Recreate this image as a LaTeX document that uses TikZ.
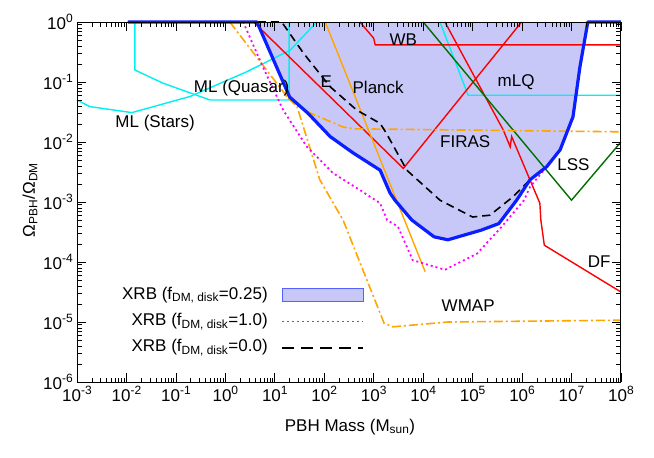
\documentclass[tikz,border=0pt]{standalone}
\usepackage{fontspec}
\setmainfont{Liberation Sans}
\definecolor{fillc}{RGB}{200,200,248}
\definecolor{orng}{RGB}{255,165,0}
\definecolor{dgreen}{RGB}{0,110,0}
\definecolor{xblue}{RGB}{10,30,255}
\definecolor{cyn}{RGB}{0,240,240}
\definecolor{mag}{RGB}{255,0,255}
\definecolor{rd}{RGB}{255,0,0}
\newcommand\tp[1]{10\raisebox{0.75ex}{\fontsize{12}{12}\selectfont #1}}
\begin{document}
\begin{tikzpicture}[
  lbl/.style={font=\fontsize{17}{20}\selectfont, inner sep=1pt},
  thin1/.style={line width=1.4pt},
  dashdot1/.style={line width=1.6pt, dash pattern=on 9pt off 3pt on 2pt off 3pt},
  dotm/.style={mag, line width=1.8pt, dash pattern=on 2pt off 3pt},
]
\useasboundingbox (0,0) rectangle (654pt,-458pt);
\begin{scope}[x=49.45pt, y=60pt, shift={(225.35pt,-22pt)}]
% shaded region
\fill[fillc] (0.64,0)--(1.30,-1.25)--(1.67,-1.52)--(2.12,-1.91)--(2.58,-2.18)--(3.13,-2.47)--(3.33,-2.85)--(3.43,-2.97)--(3.77,-3.3)--(4.22,-3.58)--(4.5,-3.63)--(5.17,-3.47)--(5.53,-3.36)--(5.89,-2.97)--(6.16,-2.63)--(6.5,-2.41)--(6.77,-2.13)--(7.03,-1.58)--(7.17,-0.75)--(7.33,0)--cycle;
% cyan
\draw[cyn, thin1] (-3,-1.3)--(-2.74,-1.41)--(-1.89,-1.51)--(-0.71,-1.24)--(0.43,-0.83)--(1.31,-0.47)--(1.85,0);
\draw[cyn, thin1] (-1.83,0)--(-1.83,-0.8)--(-1.26,-1.02)--(-0.31,-1.3)--(1.29,-1.3)--(1.29,0);
\draw[cyn, thin1] (4.34,0)--(4.91,-1.22)--(8,-1.22);
% red
\draw[rd, thin1] (2.72,0)--(3.0,-0.27)--(3.03,-0.38)--(8,-0.38);
\draw[rd, thin1] (0.57,0)--(3.6,-2.44)--(5.99,0);
\draw[rd, thin1] (4.44,0)--(5.62,-1.8)--(5.76,-2.08)--(5.79,-1.91)--(6.36,-3.02)--(6.38,-3.3)--(6.45,-3.72)--(8,-4.5);
% green
\draw[dgreen, thin1] (4.0,0)--(7.0,-2.97)--(8,-2.0);
% orange
\draw[orng, thin1] (2.02,0)--(4.04,-4.16);
\draw[orng, dashdot1] (0.09,0)--(1.27,-1.27)--(1.67,-1.5)--(2.38,-1.75)--(2.6,-1.78)--(8,-1.83);
\draw[orng, dashdot1] (1.27,-1.27)--(1.45,-1.41)--(1.91,-2.63)--(2.38,-3.3)--(3.21,-5.02)--(3.39,-5.08)--(4.5,-5.0)--(8,-4.97);
% XRB f=1.0 magenta dotted
\draw[dotm] (-1.97,0)--(0.36,0)--(0.76,-0.75)--(1.17,-1.47)--(1.65,-2.08)--(2.18,-2.52)--(2.72,-2.8)--(3.13,-3.02)--(3.27,-3.3)--(3.49,-3.41)--(3.79,-3.97)--(4.44,-4.13)--(5.09,-3.86)--(5.59,-3.41)--(6.04,-2.97)--(6.16,-2.75)--(6.5,-2.41)--(6.77,-2.13)--(7.03,-1.58)--(7.17,-0.75)--(7.33,0)--(8,0);
% XRB f=0 black dashed
\draw[black, line width=1.6pt, dash pattern=on 8pt off 5pt] (-1.97,0)--(1.14,0)--(1.58,-0.52)--(2.12,-1.08)--(2.66,-1.47)--(3.13,-1.69)--(3.26,-1.86)--(3.67,-2.47)--(4.34,-2.97)--(5.0,-3.25)--(5.35,-3.22)--(5.82,-2.91)--(6.16,-2.63)--(6.5,-2.41)--(6.77,-2.13)--(7.03,-1.58)--(7.17,-0.75)--(7.33,0)--(8,0);
% XRB f=0.25 blue
\draw[xblue, line width=3.2pt, line join=round] (-1.97,0)--(0.64,0)--(1.30,-1.25)--(1.67,-1.52)--(2.12,-1.91)--(2.58,-2.18)--(3.13,-2.47)--(3.33,-2.85)--(3.43,-2.97)--(3.77,-3.3)--(4.22,-3.58)--(4.5,-3.63)--(5.17,-3.47)--(5.53,-3.36)--(5.89,-2.97)--(6.16,-2.63)--(6.5,-2.41)--(6.77,-2.13)--(7.03,-1.58)--(7.17,-0.75)--(7.33,0)--(8,0);
% frame and ticks
\draw[line width=1pt] (-3,-6) rectangle (8,0);
\foreach \k in {-3,...,8}{
  \draw[line width=0.8pt] (\k,-6) -- ++(0,9pt);
  \draw[line width=0.8pt] (\k,0) -- ++(0,-9pt);
  \node[lbl, anchor=north] (xt\k) at ([yshift=-3pt]\k,-6) {\tp{\k}};
}
\foreach \k in {-3,...,7}{
  \foreach \m in {2,...,9}{
    \draw[line width=0.6pt] ({\k+log10(\m)},-6) -- ++(0,4.5pt);
    \draw[line width=0.6pt] ({\k+log10(\m)},0) -- ++(0,-4.5pt);
  }
}
\foreach \k in {-6,...,0}{
  \draw[line width=0.8pt] (-3,\k) -- ++(9pt,0);
  \draw[line width=0.8pt] (8,\k) -- ++(-9pt,0);
  \node[lbl, anchor=east] (yt\k) at ([xshift=-3pt]-3,\k) {\tp{\k}};
}
\foreach \k in {-6,...,-1}{
  \foreach \m in {2,...,9}{
    \draw[line width=0.6pt] (-3,{\k+log10(\m)}) -- ++(4.5pt,0);
    \draw[line width=0.6pt] (8,{\k+log10(\m)}) -- ++(-4.5pt,0);
  }
}
% labels
\node[lbl] (mls) at (-1.42,-1.69) {ML (Stars)};
\node[lbl] (mlq) at (0.33,-1.1) {ML (Quasar)};
\node[lbl] (e) at (2.04,-1.0) {E};
\node[lbl] (pl) at (3.09,-1.09) {Planck};
\node[lbl] (wb) at (3.6,-0.3) {WB};
\node[lbl] (mlq2) at (5.88,-1.0) {mLQ};
\node[lbl] (fi) at (4.85,-2.0) {FIRAS};
\node[lbl] (lss) at (7.04,-2.38) {LSS};
\node[lbl] (df) at (7.56,-4.0) {DF};
\node[lbl] (wm) at (4.91,-4.73) {WMAP};
% legend
\node[lbl, anchor=east] (l1) at (0.88,-4.55) {XRB (f\textsubscript{DM, disk}=0.25)};
\node[lbl, anchor=east] (l2) at (0.88,-4.99) {XRB (f\textsubscript{DM, disk}=1.0)};
\node[lbl, anchor=east] (l3) at (0.88,-5.43) {XRB (f\textsubscript{DM, disk}=0.0)};
\draw[fill=fillc, draw=xblue!70, line width=0.8pt] (1.146,-4.44) rectangle (2.785,-4.66);
\draw[dotm] (1.146,-4.99) -- (2.785,-4.99);
\draw[black, line width=1.6pt, dash pattern=on 12pt off 7pt] (1.146,-5.43) -- (2.785,-5.43);
\end{scope}
\node[lbl] (xl) at (350pt,-427pt) {PBH Mass (M\textsubscript{sun})};
\node[lbl, rotate=90] (yl) at (30pt,-200pt) {Ω\textsubscript{PBH}/Ω\textsubscript{DM}};
\end{tikzpicture}
\end{document}
